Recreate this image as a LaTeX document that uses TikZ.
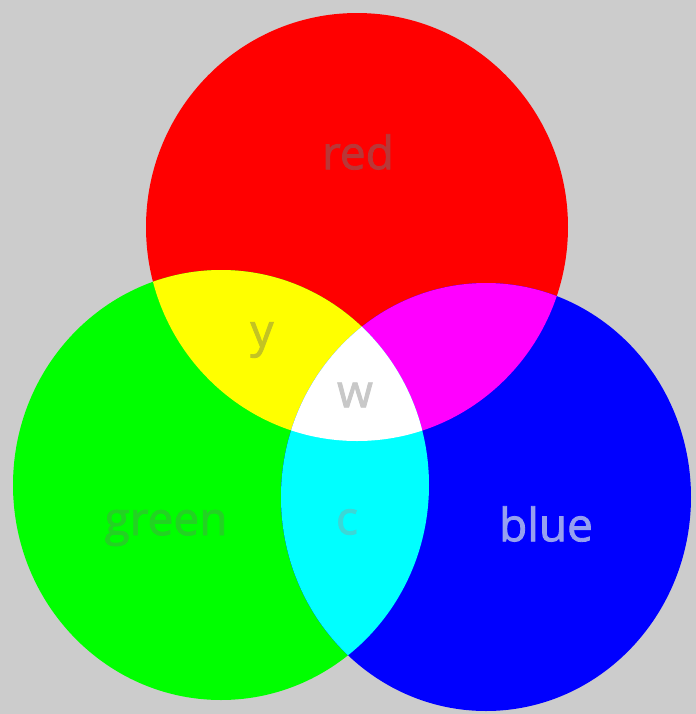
\documentclass[tikz,border=0pt]{standalone}
\usepackage{fontspec}
\setmainfont{Open Sans}
\newfontfamily\lblfont[FakeBold=1.8]{Open Sans}
\definecolor{cbg}{RGB}{204,204,204}
\definecolor{cred}{RGB}{255,0,0}
\definecolor{cgrn}{RGB}{0,255,0}
\definecolor{cblu}{RGB}{0,0,255}
\definecolor{cyel}{RGB}{255,255,0}
\definecolor{cmag}{RGB}{255,0,255}
\definecolor{ccyn}{RGB}{0,255,255}
\definecolor{cwht}{RGB}{255,255,255}
\definecolor{tred}{RGB}{185,55,55}
\definecolor{tyel}{RGB}{195,195,35}
\definecolor{twht}{RGB}{200,200,200}
\definecolor{tgrn}{RGB}{35,210,35}
\definecolor{tcyn}{RGB}{60,215,215}
\definecolor{tblu}{RGB}{150,160,240}

\begin{document}
\begin{tikzpicture}[
  x=0.5pt, y=-0.5pt,
  lbl/.style={font=\lblfont\fontsize{23}{26}\selectfont, inner sep=0pt},
  ]
\def\redc{(357,227) ellipse [x radius=211, y radius=214]}
\def\grnc{(221,485) ellipse [x radius=208, y radius=215]}
\def\bluc{(486,497) ellipse [x radius=205, y radius=214]}
\fill[fill=cbg] (0,0) rectangle (696,714);
\useasboundingbox (0,0) rectangle (696,714);
% primaries
\fill[fill=cred] \redc;
\fill[fill=cgrn] \grnc;
\fill[fill=cblu] \bluc;
% overlaps
\begin{scope}
  \clip \redc;
  \fill[fill=cyel] \grnc;
  \fill[fill=cmag] \bluc;
\end{scope}
\begin{scope}
  \clip \grnc;
  \fill[fill=ccyn] \bluc;
\end{scope}
\begin{scope}
  \clip \redc;
  \clip \grnc;
  \fill[fill=cwht] \bluc;
\end{scope}
% labels
\node[lbl, text=tred] (lred) at (358,152) {red};
\node[lbl, text=tyel] (lyel) at (262,340) {y};
\node[lbl, text=twht] (lwht) at (355,395) {w};
\node[lbl, text=tgrn] (lgrn) at (166,528) {green};
\node[lbl, text=tcyn] (lcyn) at (347,522) {c};
\node[lbl, text=tblu] (lblu) at (546,524) {blue};
\end{tikzpicture}
\end{document}
